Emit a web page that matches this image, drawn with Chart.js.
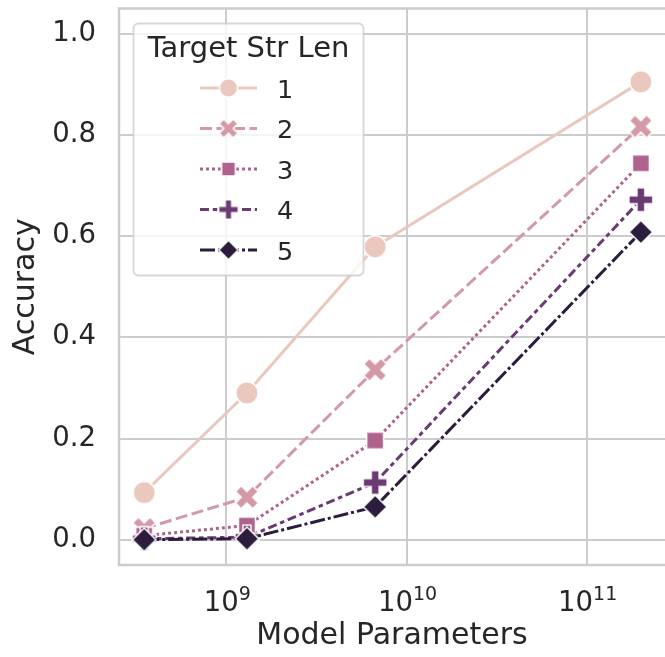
<!DOCTYPE html>
<html>
<head>
<meta charset="utf-8">
<script src="https://cdn.jsdelivr.net/npm/chart.js@4.4.1/dist/chart.umd.min.js"></script>
<style>
  html, body { margin: 0; padding: 0; background: #fff; }
</style>
</head>
<body>
<canvas id="chart-1" width="665" height="657"></canvas>
<script>
// Dữ liệu
const modelParams = [3.5e8, 1.3e9, 6.7e9, 2.0e11];
const strLenLabels = ['1', '2', '3', '4', '5'];
const accLen1 = [0.093, 0.290, 0.579, 0.905];
const accLen2 = [0.022, 0.084, 0.336, 0.817];
const accLen3 = [0.008, 0.028, 0.196, 0.744];
const accLen4 = [0.002, 0.005, 0.113, 0.672];
const accLen5 = [0.000, 0.002, 0.065, 0.608];
const xTickValues = [1e9, 1e10, 1e11];
const yTickValues = [0, 0.2, 0.4, 0.6, 0.8, 1.0];

const FONT = '"DejaVu Sans", sans-serif';
const TEXT = '#262626';
const GRID = '#cccccc';

const colors = ['#eac8bd', '#d499a6', '#b0628e', '#6c3a73', '#2c1d3d'];
const shapes = ['circle', 'x', 'square', 'plus', 'diamond'];
const dashes = [[], [12, 4.5], [3, 3], [9, 3.75, 4.5, 3.75], [15, 3, 3, 3]];
const seriesData = [accLen1, accLen2, accLen3, accLen4, accLen5];

// Vẽ marker kiểu matplotlib lên canvas phụ
function makeMarker(shape, color, scale) {
    const dim = 32;
    const c = document.createElement('canvas');
    c.width = dim;
    c.height = dim;
    const g = c.getContext('2d');
    g.translate(dim / 2, dim / 2);
    g.beginPath();
    let pts = null;
    if (shape === 'circle') {
        g.arc(0, 0, 11.2 * scale, 0, Math.PI * 2);
    } else if (shape === 'x') {
        const k = 11.5 * scale / 2;
        pts = [[-1, -2], [0, -1], [1, -2], [2, -1], [1, 0], [2, 1], [1, 2], [0, 1], [-1, 2], [-2, 1], [-1, 0], [-2, -1]]
            .map(p => [p[0] * k, p[1] * k]);
    } else if (shape === 'square') {
        const s = 8.5 * scale;
        g.rect(-s, -s, 2 * s, 2 * s);
    } else if (shape === 'plus') {
        const k = 12 * scale / 3;
        pts = [[-1, -3], [1, -3], [1, -1], [3, -1], [3, 1], [1, 1], [1, 3], [-1, 3], [-1, 1], [-3, 1], [-3, -1], [-1, -1]]
            .map(p => [p[0] * k, p[1] * k]);
    } else if (shape === 'diamond') {
        const h = 11.8 * scale;
        pts = [[0, -h], [h, 0], [0, h], [-h, 0]];
    }
    if (pts) {
        g.moveTo(pts[0][0], pts[0][1]);
        pts.slice(1).forEach(p => g.lineTo(p[0], p[1]));
    }
    g.closePath();
    g.fillStyle = color;
    g.fill();
    g.lineWidth = 1.5;
    g.strokeStyle = '#ffffff';
    g.stroke();
    return c;
}

const plotMarkers = shapes.map((s, i) => makeMarker(s, colors[i], 1));
const legendMarkers = shapes.map((s, i) => makeMarker(s, colors[i], 0.82));

const datasets = strLenLabels.map((label, i) => ({
    label: label,
    data: modelParams.map((x, j) => ({x: x, y: seriesData[i][j]})),
    borderColor: colors[i],
    backgroundColor: colors[i],
    borderWidth: 3,
    borderDash: dashes[i],
    borderJoinStyle: 'round',
    tension: 0,
    pointStyle: plotMarkers[i],
    pointRadius: 11,
    order: strLenLabels.length - 1 - i,
    clip: false
}));

// Khung trục (trái, trên, dưới)
const framePlugin = {
    id: 'frame',
    beforeDatasetsDraw(chart) {
        const {ctx, chartArea: a} = chart;
        ctx.save();
        ctx.strokeStyle = GRID;
        ctx.lineWidth = 2.5;
        ctx.beginPath();
        ctx.moveTo(a.right + 2, a.top);
        ctx.lineTo(a.left, a.top);
        ctx.lineTo(a.left, a.bottom);
        ctx.lineTo(a.right + 2, a.bottom);
        ctx.stroke();
        ctx.restore();
    }
};

// Nhãn trục x dạng 10^n
const powerLabelPlugin = {
    id: 'powerLabels',
    afterDraw(chart) {
        const {ctx, chartArea: a} = chart;
        const xs = chart.scales.x;
        const baseFont = '27.5px ' + FONT;
        const expFont = '19px ' + FONT;
        ctx.save();
        ctx.fillStyle = TEXT;
        ctx.textAlign = 'left';
        ctx.textBaseline = 'alphabetic';
        xs.ticks.forEach(t => {
            const px = xs.getPixelForValue(t.value);
            const exp = String(Math.round(Math.log10(t.value)));
            ctx.font = baseFont;
            const wb = ctx.measureText('10').width;
            ctx.font = expFont;
            const we = ctx.measureText(exp).width;
            const left = px - (wb + we) / 2 + 1;
            ctx.font = baseFont;
            ctx.fillText('10', left, a.bottom + 45.5);
            ctx.font = expFont;
            ctx.fillText(exp, left + wb, a.bottom + 34.5);
        });
        ctx.restore();
    }
};

// Chú thích tự vẽ: đường + marker
const legendPlugin = {
    id: 'customLegend',
    afterDraw(chart) {
        const ctx = chart.ctx;
        const box = {x: 133.5, y: 23.5, w: 230, h: 252};
        ctx.save();
        ctx.beginPath();
        ctx.roundRect(box.x, box.y, box.w, box.h, 5);
        ctx.fillStyle = 'rgba(255,255,255,0.8)';
        ctx.fill();
        ctx.lineWidth = 1.8;
        ctx.strokeStyle = 'rgba(204,204,204,0.8)';
        ctx.stroke();

        ctx.fillStyle = TEXT;
        ctx.font = '29px ' + FONT;
        ctx.textAlign = 'center';
        ctx.textBaseline = 'alphabetic';
        ctx.fillText('Target Str Len', box.x + box.w / 2, 56.5);

        chart.data.datasets.forEach((ds, i) => {
            const y = 88 + i * 40.5;
            ctx.save();
            ctx.strokeStyle = ds.borderColor;
            ctx.lineWidth = 3;
            ctx.setLineDash(ds.borderDash);
            ctx.beginPath();
            ctx.moveTo(200, y);
            ctx.lineTo(257, y);
            ctx.stroke();
            ctx.restore();
            const m = legendMarkers[i];
            ctx.drawImage(m, 228.5 - m.width / 2, y - m.height / 2);
            ctx.fillStyle = TEXT;
            ctx.font = '25.5px ' + FONT;
            ctx.textAlign = 'left';
            ctx.fillText(ds.label, 277, y + 9.8);
        });
        ctx.restore();
    }
};

document.addEventListener('DOMContentLoaded', function () {
    const ctx = document.getElementById('chart-1').getContext('2d');
    new Chart(ctx, {
        type: 'line',
        data: {datasets: datasets},
        options: {
            responsive: false,
            animation: false,
            layout: {autoPadding: false, padding: {top: 8.5, left: 0, right: 0, bottom: 0}},
            plugins: {
                legend: {display: false},
                tooltip: {enabled: false}
            },
            scales: {
                x: {
                    type: 'logarithmic',
                    min: Math.pow(10, 8.404),
                    max: Math.pow(10, 11.435),
                    afterBuildTicks: s => { s.ticks = xTickValues.map(v => ({value: v, major: true})); },
                    afterFit: s => { s.height = 92; s.paddingLeft = 0; s.paddingRight = 0; },
                    ticks: {display: false},
                    grid: {color: GRID, lineWidth: 2, drawTicks: false},
                    border: {display: false},
                    title: {
                        display: true,
                        text: 'Model Parameters',
                        color: TEXT,
                        font: {family: FONT, size: 30},
                        padding: {top: 0, bottom: 2.7}
                    }
                },
                y: {
                    min: -0.05,
                    max: 1.05,
                    afterBuildTicks: s => { s.ticks = yTickValues.map(v => ({value: v})); },
                    afterFit: s => { s.width = 119; s.paddingTop = 0; s.paddingBottom = 0; },
                    ticks: {
                        callback: v => Number(v).toFixed(1),
                        color: TEXT,
                        font: {family: FONT, size: 27.5},
                        padding: 23
                    },
                    grid: {color: GRID, lineWidth: 2, drawTicks: false},
                    border: {display: false},
                    title: {
                        display: true,
                        text: 'Accuracy',
                        color: TEXT,
                        font: {family: FONT, size: 30},
                        padding: {top: 8, bottom: 0}
                    }
                }
            }
        },
        plugins: [framePlugin, powerLabelPlugin, legendPlugin]
    });
});
</script>
</body>
</html>
